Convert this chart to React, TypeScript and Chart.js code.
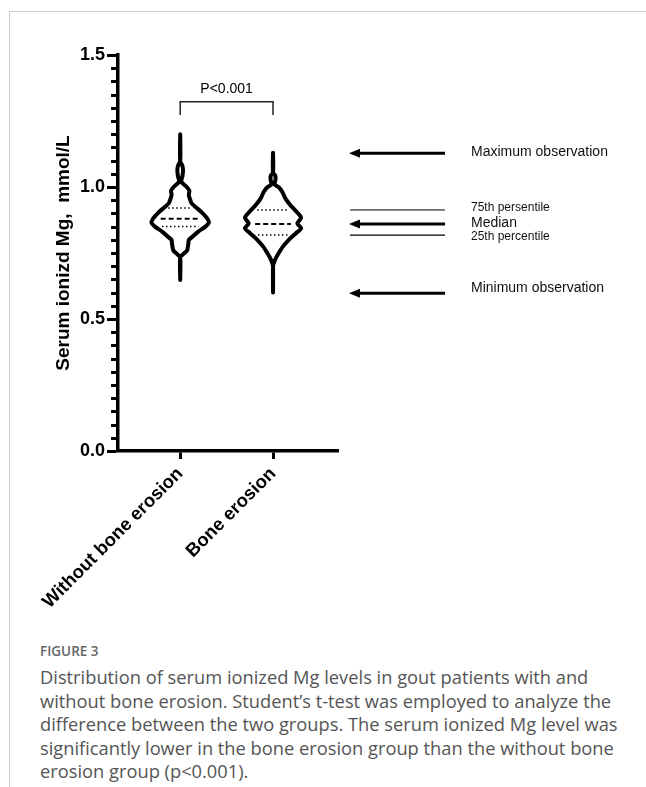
import React, { useEffect, useRef } from "react";
import { Chart, registerables } from "chart.js";

Chart.register(...registerables);

// ---------- data ----------
const categories = ["Without bone erosion", "Bone erosion"];
const yTickValues = [0, 0.5, 1.0, 1.5];
const yTickLabels = ["0.0", "0.5", "1.0", "1.5"];
const yMinorStep = 0.05;
const yAxisTitle = "Serum ionizd Mg,  mmol/L";

// violin outline: level (mmol/L) and relative density (half-width, widest = 1)
const withoutLevels = [0.648, 0.735, 0.745, 0.76, 0.775, 0.79, 0.8, 0.812, 0.831, 0.85, 0.865, 0.881, 0.903, 0.923, 0.938, 0.951, 0.97, 0.986, 1.001, 1.02, 1.042, 1.064, 1.083, 1.096, 1.2];
const withoutDensity = [0, 0, 0.1, 0.24, 0.27, 0.29, 0.3, 0.43, 0.63, 0.88, 1.0, 0.94, 0.76, 0.55, 0.4, 0.35, 0.3, 0.32, 0.22, 0.04, 0.08, 0.1, 0.07, 0, 0];
const erosionLevels = [0.6, 0.7, 0.716, 0.735, 0.75, 0.775, 0.8, 0.825, 0.844, 0.862, 0.884, 0.906, 0.932, 0.957, 0.982, 0.999, 1.01, 1.02, 1.033, 1.045, 1.054, 1.13];
const erosionDensity = [0, 0, 0.04, 0.12, 0.2, 0.35, 0.55, 0.8, 0.98, 0.85, 0.98, 0.82, 0.6, 0.43, 0.32, 0.2, 0.05, 0.07, 0.09, 0.07, 0, 0];

// quartiles [Q1, median, Q3]
const withoutQuartiles = [0.85, 0.88, 0.92];
const erosionQuartiles = [0.818, 0.86, 0.913];
const erosionMinMax = [0.598, 1.128];

const pValueText = "P<0.001";
const pBracketLevel = 1.323;
const pBracketDrop = 0.05;

const legendLabels = ["Maximum observation", "75th persentile", "Median", "25th percentile", "Minimum observation"];

const captionTitle = "FIGURE 3";
const captionLines = [
  "Distribution of serum ionized Mg levels in gout patients with and",
  "without bone erosion. Student\u2019s t-test was employed to analyze the",
  "difference between the two groups. The serum ionized Mg level was",
  "significantly lower in the bone erosion group than the without bone",
  "erosion group (p<0.001).",
];

// ---------- helpers ----------
const MAX_HALF_WIDTH = 0.309; // category units at density 1
const FONT = "'Liberation Sans', Arial, sans-serif";

function densityAt(levels: number[], dens: number[], v: number) {
  for (let i = 0; i < levels.length - 1; i++) {
    if (v >= levels[i] && v <= levels[i + 1]) {
      const t = (v - levels[i]) / (levels[i + 1] - levels[i]);
      return dens[i] + t * (dens[i + 1] - dens[i]);
    }
  }
  return 0;
}

function outline(levels: number[], dens: number[], c: number) {
  const right = levels.map((v, i) => ({ x: c + dens[i] * MAX_HALF_WIDTH, y: v }));
  const left = levels
    .map((v, i) => ({ x: c - dens[i] * MAX_HALF_WIDTH, y: v }))
    .reverse()
    .slice(1);
  return [...right, ...left];
}

function quartileLine(levels: number[], dens: number[], c: number, q: number) {
  const s = densityAt(levels, dens, q) * MAX_HALF_WIDTH * 0.72;
  return [
    { x: c - s, y: q },
    { x: c + s, y: q },
  ];
}

const annotPlugin = {
  id: "annot",
  afterDraw(chart: any) {
    const ctx = chart.ctx;
    const ys = chart.scales.y;
    const xs = chart.scales.x;
    const ca = chart.chartArea;
    ctx.save();
    // minor ticks
    ctx.strokeStyle = "#000";
    ctx.lineWidth = 3;
    for (let v = 0; v <= 1.5001; v += yMinorStep) {
      const isMajor = yTickValues.some((m) => Math.abs(m - v) < 1e-6);
      if (isMajor) continue;
      const py = Math.round(ys.getPixelForValue(v)) + 0.5;
      ctx.beginPath();
      ctx.moveTo(ca.left, py);
      ctx.lineTo(ca.left - 7, py);
      ctx.stroke();
    }
    // p-value bracket
    const bx0 = xs.getPixelForValue(0);
    const bx1 = xs.getPixelForValue(1);
    const by = ys.getPixelForValue(pBracketLevel);
    const byd = ys.getPixelForValue(pBracketLevel - pBracketDrop);
    ctx.lineWidth = 1.5;
    ctx.strokeStyle = "#222";
    ctx.beginPath();
    ctx.moveTo(bx0, byd);
    ctx.lineTo(bx0, by);
    ctx.lineTo(bx1, by);
    ctx.lineTo(bx1, byd);
    ctx.stroke();
    ctx.fillStyle = "#000";
    ctx.font = "14px " + FONT;
    ctx.textAlign = "center";
    ctx.textBaseline = "middle";
    ctx.fillText(pValueText, (bx0 + bx1) / 2, by - 13);

    // legend explanation on the right
    const ax0 = 350;
    const ax1 = 445;
    const tx = 471;
    const items = [
      { v: erosionMinMax[1], arrow: true, lw: 3, label: legendLabels[0], size: 14, dy: -1 },
      { v: erosionQuartiles[2], arrow: false, lw: 1, label: legendLabels[1], size: 12, dy: -2.5 },
      { v: erosionQuartiles[1], arrow: true, lw: 3, label: legendLabels[2], size: 14, dy: -1 },
      { v: erosionQuartiles[0], arrow: false, lw: 1.3, label: legendLabels[3], size: 12, dy: 2 },
      { v: erosionMinMax[0], arrow: true, lw: 3, label: legendLabels[4], size: 14, dy: -5 },
    ];
    items.forEach((it) => {
      const py = ys.getPixelForValue(it.v);
      ctx.strokeStyle = "#000";
      ctx.lineWidth = it.lw;
      ctx.beginPath();
      ctx.moveTo(it.arrow ? ax0 + 6 : ax0, py);
      ctx.lineTo(ax1, py);
      ctx.stroke();
      if (it.arrow) {
        ctx.fillStyle = "#000";
        ctx.beginPath();
        ctx.moveTo(ax0 - 1, py);
        ctx.lineTo(ax0 + 10, py - 4.5);
        ctx.lineTo(ax0 + 10, py + 4.5);
        ctx.closePath();
        ctx.fill();
      }
      ctx.fillStyle = "#111";
      ctx.font = it.size + "px " + FONT;
      ctx.textAlign = "left";
      ctx.textBaseline = "middle";
      ctx.fillText(it.label, tx, py + it.dy);
    });
    ctx.restore();
  },
};

function ViolinChart() {
  const ref = useRef<HTMLCanvasElement | null>(null);
  useEffect(() => {
    if (!ref.current) return;
    const violinStyle = {
      showLine: true,
      borderColor: "#000",
      borderWidth: 4,
      borderJoinStyle: "round" as const,
      borderCapStyle: "round" as const,
      pointRadius: 0,
      fill: false,
      tension: 0.25,
    };
    const lineStyle = (dash: number[], w: number) => ({
      showLine: true,
      borderColor: "#000",
      borderWidth: w,
      borderDash: dash,
      pointRadius: 0,
      fill: false,
      tension: 0,
    });
    const datasets: any[] = [
      { label: categories[0], data: outline(withoutLevels, withoutDensity, 0), ...violinStyle },
      { label: categories[1], data: outline(erosionLevels, erosionDensity, 1), ...violinStyle },
    ];
    [
      [withoutLevels, withoutDensity, 0, withoutQuartiles],
      [erosionLevels, erosionDensity, 1, erosionQuartiles],
    ].forEach(([lv, dn, c, qs]: any) => {
      datasets.push({ label: "q1", data: quartileLine(lv, dn, c, qs[0]), ...lineStyle([1.5, 2.5], 1.5) });
      datasets.push({ label: "med", data: quartileLine(lv, dn, c, qs[1]), ...lineStyle([5, 3], 2) });
      datasets.push({ label: "q3", data: quartileLine(lv, dn, c, qs[2]), ...lineStyle([1.5, 2.5], 1.5) });
    });

    const chart = new Chart(ref.current, {
      type: "scatter",
      data: { datasets },
      plugins: [annotPlugin],
      options: {
        animation: false,
        responsive: false,
        devicePixelRatio: 1,
        layout: { padding: { left: 0, top: 55, right: 308, bottom: 0 } },
        plugins: { legend: { display: false }, tooltip: { enabled: false } },
        scales: {
          x: {
            type: "linear",
            min: -0.67,
            max: 1.7,
            afterBuildTicks: (scale: any) => {
              scale.ticks = categories.map((_, i) => ({ value: i }));
            },
            afterFit: (scale: any) => {
              scale.height = 189;
            },
            ticks: {
              autoSkip: false,
              minRotation: 45,
              maxRotation: 45,
              padding: 4,
              color: "#000",
              font: { family: FONT, size: 18.5, weight: "bold" },
              callback: (v: any) => categories[Math.round(Number(v))] ?? "",
            },
            grid: {
              display: true,
              drawOnChartArea: false,
              drawTicks: true,
              tickLength: 8,
              tickWidth: 3,
              tickColor: "#000",
            },
            border: { display: true, width: 3.5, color: "#000" },
          },
          y: {
            type: "linear",
            min: 0,
            max: 1.5,
            afterBuildTicks: (scale: any) => {
              const t: any[] = [];
              for (let i = 0; i <= Math.round(1.5 / yMinorStep); i++) t.push({ value: +(i * yMinorStep).toFixed(2) });
              scale.ticks = t;
            },
            afterFit: (scale: any) => {
              scale.width = 118;
            },
            ticks: {
              autoSkip: false,
              padding: 2,
              color: "#000",
              font: { family: FONT, size: 18, weight: "bold" },
              callback: (v: any) => {
                const idx = yTickValues.findIndex((m) => Math.abs(m - Number(v)) < 1e-6);
                return idx >= 0 ? yTickLabels[idx] : "";
              },
            },
            grid: {
              display: true,
              drawOnChartArea: false,
              drawTicks: true,
              tickLength: 11,
              tickWidth: 3,
              tickColor: (c: any) =>
                yTickValues.some((m) => Math.abs(m - c.tick?.value) < 1e-6) ? "#000" : "rgba(0,0,0,0)",
            },
            border: { display: true, width: 3.5, color: "#000" },
            title: {
              display: true,
              text: yAxisTitle,
              color: "#000",
              font: { family: FONT, size: 19, weight: "bold" },
              padding: { top: 52, bottom: 0 },
            },
          },
        },
      } as any,
    });
    return () => chart.destroy();
  }, []);
  return (
    <canvas
      ref={ref}
      width={646}
      height={640}
      style={{ position: "absolute", left: 0, top: 0, width: 646, height: 640, display: "block" }}
    />
  );
}

export default function App() {
  return (
    <div
      style={{
        position: "absolute",
        left: 0,
        top: 0,
        width: 646,
        height: 787,
        overflow: "hidden",
        background: "#fff",
      }}
    >
      <div style={{ position: "absolute", left: 9, top: 11, width: 637, height: 1, background: "#cccccc" }} />
      <div style={{ position: "absolute", left: 9, top: 11, width: 1, height: 776, background: "#cccccc" }} />
      <ViolinChart />
      <div
        style={{
          position: "absolute",
          left: 40,
          top: 642,
          fontFamily: "'Open Sans', Lato, sans-serif",
          fontSize: 13.5,
          fontWeight: 600,
          lineHeight: "18px",
          color: "#666",
        }}
      >
        {captionTitle}
      </div>
      <div
        style={{
          position: "absolute",
          left: 40,
          top: 665,
          fontFamily: "'Open Sans', Lato, sans-serif",
          fontSize: 18.3,
          lineHeight: "23.5px",
          color: "#555",
          whiteSpace: "nowrap",
        }}
      >
        {captionLines.map((l, i) => (
          <div key={i}>{l}</div>
        ))}
      </div>
    </div>
  );
}
